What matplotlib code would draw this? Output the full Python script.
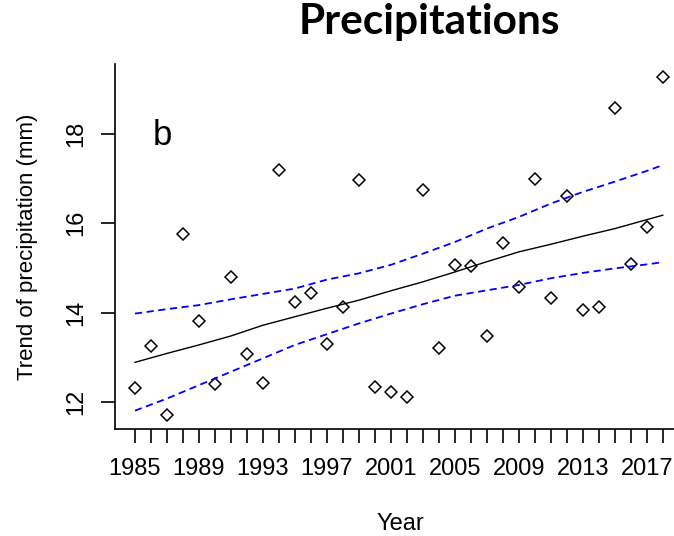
import numpy as np
import matplotlib
matplotlib.use("Agg")
import matplotlib.pyplot as plt
from matplotlib.ticker import FixedLocator

years = np.arange(1985, 2019)
precip = [12.31, 13.26, 11.71, 15.75, 13.82, 12.40, 14.80, 13.07, 12.43, 17.18,
          14.24, 14.43, 13.29, 14.12, 16.96, 12.35, 12.23, 12.12, 16.74, 13.22,
          15.07, 15.04, 13.49, 15.56, 14.58, 17.00, 14.32, 16.62, 14.06, 14.13,
          18.58, 15.08, 15.91, 19.27]

# fitted trend and confidence band
line_years = [1985, 1987, 1989, 1991, 1993, 1995, 1997, 1999, 2001, 2003,
              2005, 2007, 2009, 2011, 2013, 2015, 2017, 2018]
trend = [12.89, 13.09, 13.28, 13.48, 13.72, 13.91, 14.10, 14.28, 14.49, 14.69,
         14.91, 15.14, 15.36, 15.53, 15.71, 15.88, 16.08, 16.18]
upper = [13.98, 14.08, 14.17, 14.30, 14.42, 14.54, 14.74, 14.88, 15.07, 15.32,
         15.58, 15.88, 16.14, 16.44, 16.70, 16.93, 17.17, 17.30]
lower = [11.81, 12.08, 12.38, 12.68, 12.98, 13.28, 13.52, 13.76, 13.98, 14.19,
         14.38, 14.50, 14.62, 14.77, 14.89, 14.99, 15.08, 15.13]

xlabels = [1985, 1989, 1993, 1997, 2001, 2005, 2009, 2013, 2017]
yticks = [12, 14, 16, 18]

font = ['Liberation Sans Narrow', 'Liberation Sans', 'DejaVu Sans']
plt.rcParams['font.family'] = font

W, H = 674, 536
fig = plt.figure(figsize=(W / 100, H / 100), dpi=100)
ax = fig.add_axes([115 / W, (H - 429) / H, 1 - 115 / W, (429 - 64) / H])

ax.plot(years, precip, linestyle='none', marker='D', markersize=6.5,
        markerfacecolor='none', markeredgecolor='black', markeredgewidth=1.1)
ax.plot(line_years, trend, color='black', lw=1.0)
ax.plot(line_years, upper, color='#0000ff', lw=1.3, dashes=(4, 2.5))
ax.plot(line_years, lower, color='#0000ff', lw=1.3, dashes=(4, 2.5))

ax.set_xlim(1983.75, 2018.7)
ax.set_ylim(11.40, 19.56)

ax.spines['top'].set_visible(False)
ax.spines['right'].set_visible(False)
ax.spines['left'].set_linewidth(1.2)
ax.spines['bottom'].set_linewidth(1.2)

ax.xaxis.set_major_locator(FixedLocator(xlabels))
ax.xaxis.set_minor_locator(FixedLocator([y for y in years if y not in xlabels]))
ax.set_xticklabels([str(y) for y in xlabels])
ax.set_yticks(yticks)
ax.set_yticklabels([str(v) for v in yticks], rotation=90, va='center')

ax.tick_params(axis='x', which='both', length=10, width=1.2, direction='out')
ax.tick_params(axis='x', which='major', pad=11, labelsize=17)
ax.tick_params(axis='y', length=10, width=1.2, pad=10, labelsize=17)

# panel letter
ax.text(1986.1, 17.75, 'b', fontsize=25)

fig.text(400 / W, 1 - 530 / H, 'Year', ha='center', va='baseline', fontsize=17)
fig.text(28 / W, 1 - 247 / H, 'Trend of precipitation (mm)', rotation=90,
         ha='center', va='center', fontsize=16)
fig.text(429 / W, 1 - 34 / H, 'Precipitations', ha='center', va='baseline',
         fontsize=30.5, fontweight='bold', family=['Lato', 'DejaVu Sans'])

fig.savefig('out.png', dpi=100)
